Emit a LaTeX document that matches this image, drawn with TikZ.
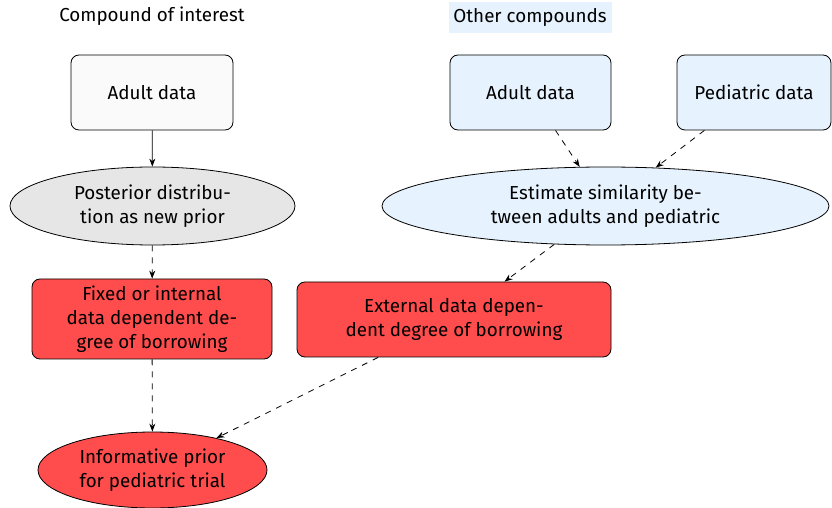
\documentclass[tikz,border=0pt]{standalone}
\usepackage{fontspec}
\setmainfont{Fira Sans}
\usepackage{xcolor}
\usepackage{tikz}
\usetikzlibrary{arrows.meta, shapes.geometric}

\definecolor{boxwhite}{HTML}{FAFAFA}
\definecolor{boxgrey}{HTML}{E6E6E6}
\definecolor{boxblue}{HTML}{E6F2FD}
\definecolor{boxred}{HTML}{FF4D4D}

\tikzset{
  every node/.style={font=\fontsize{9.4}{12}\selectfont},
  databox/.style={draw, rounded corners=4pt, align=center, inner sep=2pt},
  estbox/.style={draw, ellipse, align=center, inner sep=1pt},
  link/.style={-{Stealth[length=4pt,width=3pt]}},
  dlink/.style={link, dashed}
}

\begin{document}
\begin{tikzpicture}[x=0.5pt, y=-0.5pt]
		\useasboundingbox (0,0) rectangle (832,508);

		% Headings
		\node (hleft) at (152,16) {Compound of interest};
		\node[fill=boxblue, inner xsep=1pt, minimum width=81.5pt, minimum height=15.5pt] (hright) at (530,17.5) {Other compounds};

		% Data
		\node[databox, fill=boxwhite, minimum width=81pt, minimum height=37.5pt] (adultA) at (152,92.5) {Adult data};
		\node[databox, fill=boxblue, minimum width=80.5pt, minimum height=37.5pt] (adultB) at (530.5,92.5) {Adult data};
		\node[databox, fill=boxblue, minimum width=77pt, minimum height=37.5pt] (pedi) at (754,92.5) {Pediatric data};

		% Ellipses
		\node[estbox, fill=boxgrey, minimum width=142.5pt, minimum height=39pt] (post) at (152.5,206) {Posterior distribu-\\tion as new prior};
		\node[estbox, fill=boxblue, minimum width=223.5pt, minimum height=39pt] (simi) at (605.5,206) {Estimate similarity be-\\tween adults and pediatric};

		% Borrowing
		\node[databox, fill=boxred, minimum width=120pt, minimum height=40pt] (fixed) at (152,319) {Fixed or internal\\data dependent de-\\gree of borrowing};
		\node[databox, fill=boxred, minimum width=157pt, minimum height=37.5pt] (extern) at (454,319.5) {External data depen-\\dent degree of borrowing};

		% Result
		\node[estbox, fill=boxred, minimum width=114.5pt, minimum height=38pt] (prior) at (152.5,470) {Informative prior\\for pediatric trial};

		% Connections
		\draw[link] (adultA) -- (post);
		\draw[dlink] (post) -- (fixed);
		\draw[dlink] (fixed) -- (prior);
		\draw[dlink] (adultB) -- (simi);
		\draw[dlink] (pedi) -- (simi);
		\draw[dlink] (simi) -- (extern);
		\draw[dlink] (extern) -- (prior);
	\end{tikzpicture}
\end{document}
